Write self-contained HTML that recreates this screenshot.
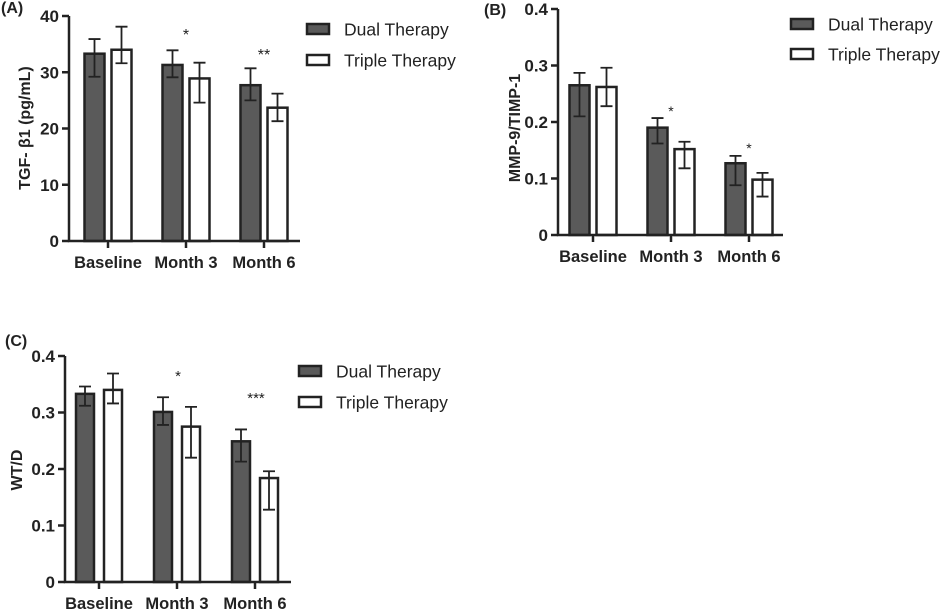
<!DOCTYPE html>
<html><head><meta charset="utf-8"><style>
html,body{margin:0;padding:0;background:#fff;width:945px;height:611px;overflow:hidden}
svg{display:block}
text{font-family:"Liberation Sans",Arial,sans-serif;fill:#222}
</style></head><body>
<svg id="chart" width="945" height="611" viewBox="0 0 945 611" xmlns="http://www.w3.org/2000/svg"></svg>
<script>
const categories = ["Baseline","Month 3","Month 6"];
const seriesNames = ["Dual Therapy","Triple Therapy"];
// Panel A
const aTicks = [0,10,20,30,40];
const aDual = [33.3,31.3,27.7];
const aDualHi = [35.9,33.9,30.7];
const aDualLo = [29.2,29.1,25.0];
const aTriple = [34.0,28.9,23.7];
const aTripleHi = [38.1,31.7,26.2];
const aTripleLo = [31.6,24.6,21.3];
const aStars = ["","*","**"];
// Panel B
const bTicks = [0,0.1,0.2,0.3,0.4];
const bDual = [0.265,0.190,0.127];
const bDualHi = [0.287,0.207,0.140];
const bDualLo = [0.210,0.162,0.088];
const bTriple = [0.262,0.152,0.098];
const bTripleHi = [0.296,0.165,0.110];
const bTripleLo = [0.228,0.118,0.068];
const bStars = ["","*","*"];
// Panel C
const cTicks = [0,0.1,0.2,0.3,0.4];
const cDual = [0.333,0.301,0.249];
const cDualHi = [0.346,0.327,0.270];
const cDualLo = [0.312,0.278,0.213];
const cTriple = [0.340,0.275,0.184];
const cTripleHi = [0.369,0.310,0.196];
const cTripleLo = [0.316,0.220,0.128];
const cStars = ["","*","***"];

const NS="http://www.w3.org/2000/svg";
const svg=document.getElementById('chart');
function mk(tag,attrs,parent,txt){const e=document.createElementNS(NS,tag);for(const k in attrs)e.setAttribute(k,attrs[k]);if(txt!==undefined)e.textContent=txt;(parent||svg).appendChild(e);return e;}

function panel(p){
  const g=mk('g',{});
  
  
  const y=v=>p.y0-(v/p.max)*(p.y0-p.yTop);
  const x=i=>p.cx0+i*p.step;
  const col='#222';
  const sets=[[p.dual,p.dualHi,p.dualLo,'#5a5a5a',-p.off],[p.triple,p.tripleHi,p.tripleLo,'#fff',p.off]];
  sets.forEach((s,si)=>{
    s[0].forEach((v,i)=>{
      const cx=x(i)+s[4];
      const r=mk('rect',{x:cx-p.bw/2,y:y(v),width:p.bw,height:p.y0-y(v),fill:s[3],stroke:col,'stroke-width':2.5},g);
      
      
      const e=mk('path',{d:`M${cx},${y(s[1][i])}V${y(s[2][i])}M${cx-6},${y(s[1][i])}H${cx+6}M${cx-6},${y(s[2][i])}H${cx+6}`,stroke:col,'stroke-width':1.8,fill:'none'},g);
      
      
    });
  });
  const ax=mk('path',{d:`M${p.ax},${p.yTop}V${p.y0}H${p.xEnd}`,stroke:col,'stroke-width':2.5,fill:'none'},g);
  
  
  p.ticks.forEach(t=>{
    mk('line',{x1:p.ax-7,x2:p.ax,y1:y(t),y2:y(t),stroke:col,'stroke-width':2.5},g);
    const tl=mk('text',{x:p.ax-10,y:y(t)+6,'text-anchor':'end','font-size':17,'font-weight':'bold'},g,String(t));
    
    
  });
  categories.forEach((c,i)=>{
    mk('line',{x1:x(i),x2:x(i),y1:p.y0,y2:p.y0+7,stroke:col,'stroke-width':2.5},g);
    const tl=mk('text',{x:x(i),y:p.y0+27,'text-anchor':'middle','font-size':16.5,'font-weight':'bold'},g,c);
    
    
    if(p.stars[i]){
      const st=mk('text',{x:x(i)+p.starDx,y:p.starY[i],'text-anchor':'middle','font-size':p.starSize},g,p.stars[i]);
      
      
    }
  });
  const yl=mk('text',{x:p.ylx,y:p.yly,'text-anchor':'middle','font-size':16,'font-weight':'bold',transform:`rotate(-90 ${p.ylx} ${p.yly})`},g,p.ylabel);
  
  
  const pl=mk('text',{x:p.plx,y:p.ply,'font-size':16,'font-weight':'bold'},g,p.letter);
  
  
  seriesNames.forEach((n,i)=>{
    const ly=p.legY+i*p.legStep;
    const le=mk('g',{},g);
    
    
    mk('rect',{x:p.legX,y:ly,width:22,height:10,fill:i?'#fff':'#5a5a5a',stroke:col,'stroke-width':2.5},le);
    mk('text',{x:p.legX+37,y:ly+11.5,'font-size':17.5},le,n);
  });
}

panel({id:'a',letter:'(A)',plx:1,ply:13,ax:69,yTop:16,y0:241,xEnd:300,max:40,ticks:aTicks,cx0:108,step:78,off:13.5,bw:20,
  dual:aDual,dualHi:aDualHi,dualLo:aDualLo,triple:aTriple,tripleHi:aTripleHi,tripleLo:aTripleLo,
  stars:aStars,starDx:0,starY:[0,40,60],starSize:16,ylabel:'TGF- β1 (pg/mL)',ylx:30,yly:128,legX:307,legY:24,legStep:31});
panel({id:'b',letter:'(B)',plx:484,ply:15,ax:558,yTop:9,y0:235,xEnd:783,max:0.4,ticks:bTicks,cx0:593,step:78,off:13.5,bw:20,
  dual:bDual,dualHi:bDualHi,dualLo:bDualLo,triple:bTriple,tripleHi:bTripleHi,tripleLo:bTripleLo,
  stars:bStars,starDx:0,starY:[0,116,153],starSize:14,ylabel:'MMP-9/TIMP-1',ylx:520,yly:128,legX:791,legY:19,legStep:30});
panel({id:'c',letter:'(C)',plx:5,ply:346,ax:65,yTop:356,y0:582,xEnd:291,max:0.4,ticks:cTicks,cx0:99,step:78,off:14,bw:18,
  dual:cDual,dualHi:cDualHi,dualLo:cDualLo,triple:cTriple,tripleHi:cTripleHi,tripleLo:cTripleLo,
  stars:cStars,starDx:1,starY:[0,381,403],starSize:15,ylabel:'WT/D',ylx:22,yly:470,legX:299,legY:366,legStep:31});
</script>
</body></html>
